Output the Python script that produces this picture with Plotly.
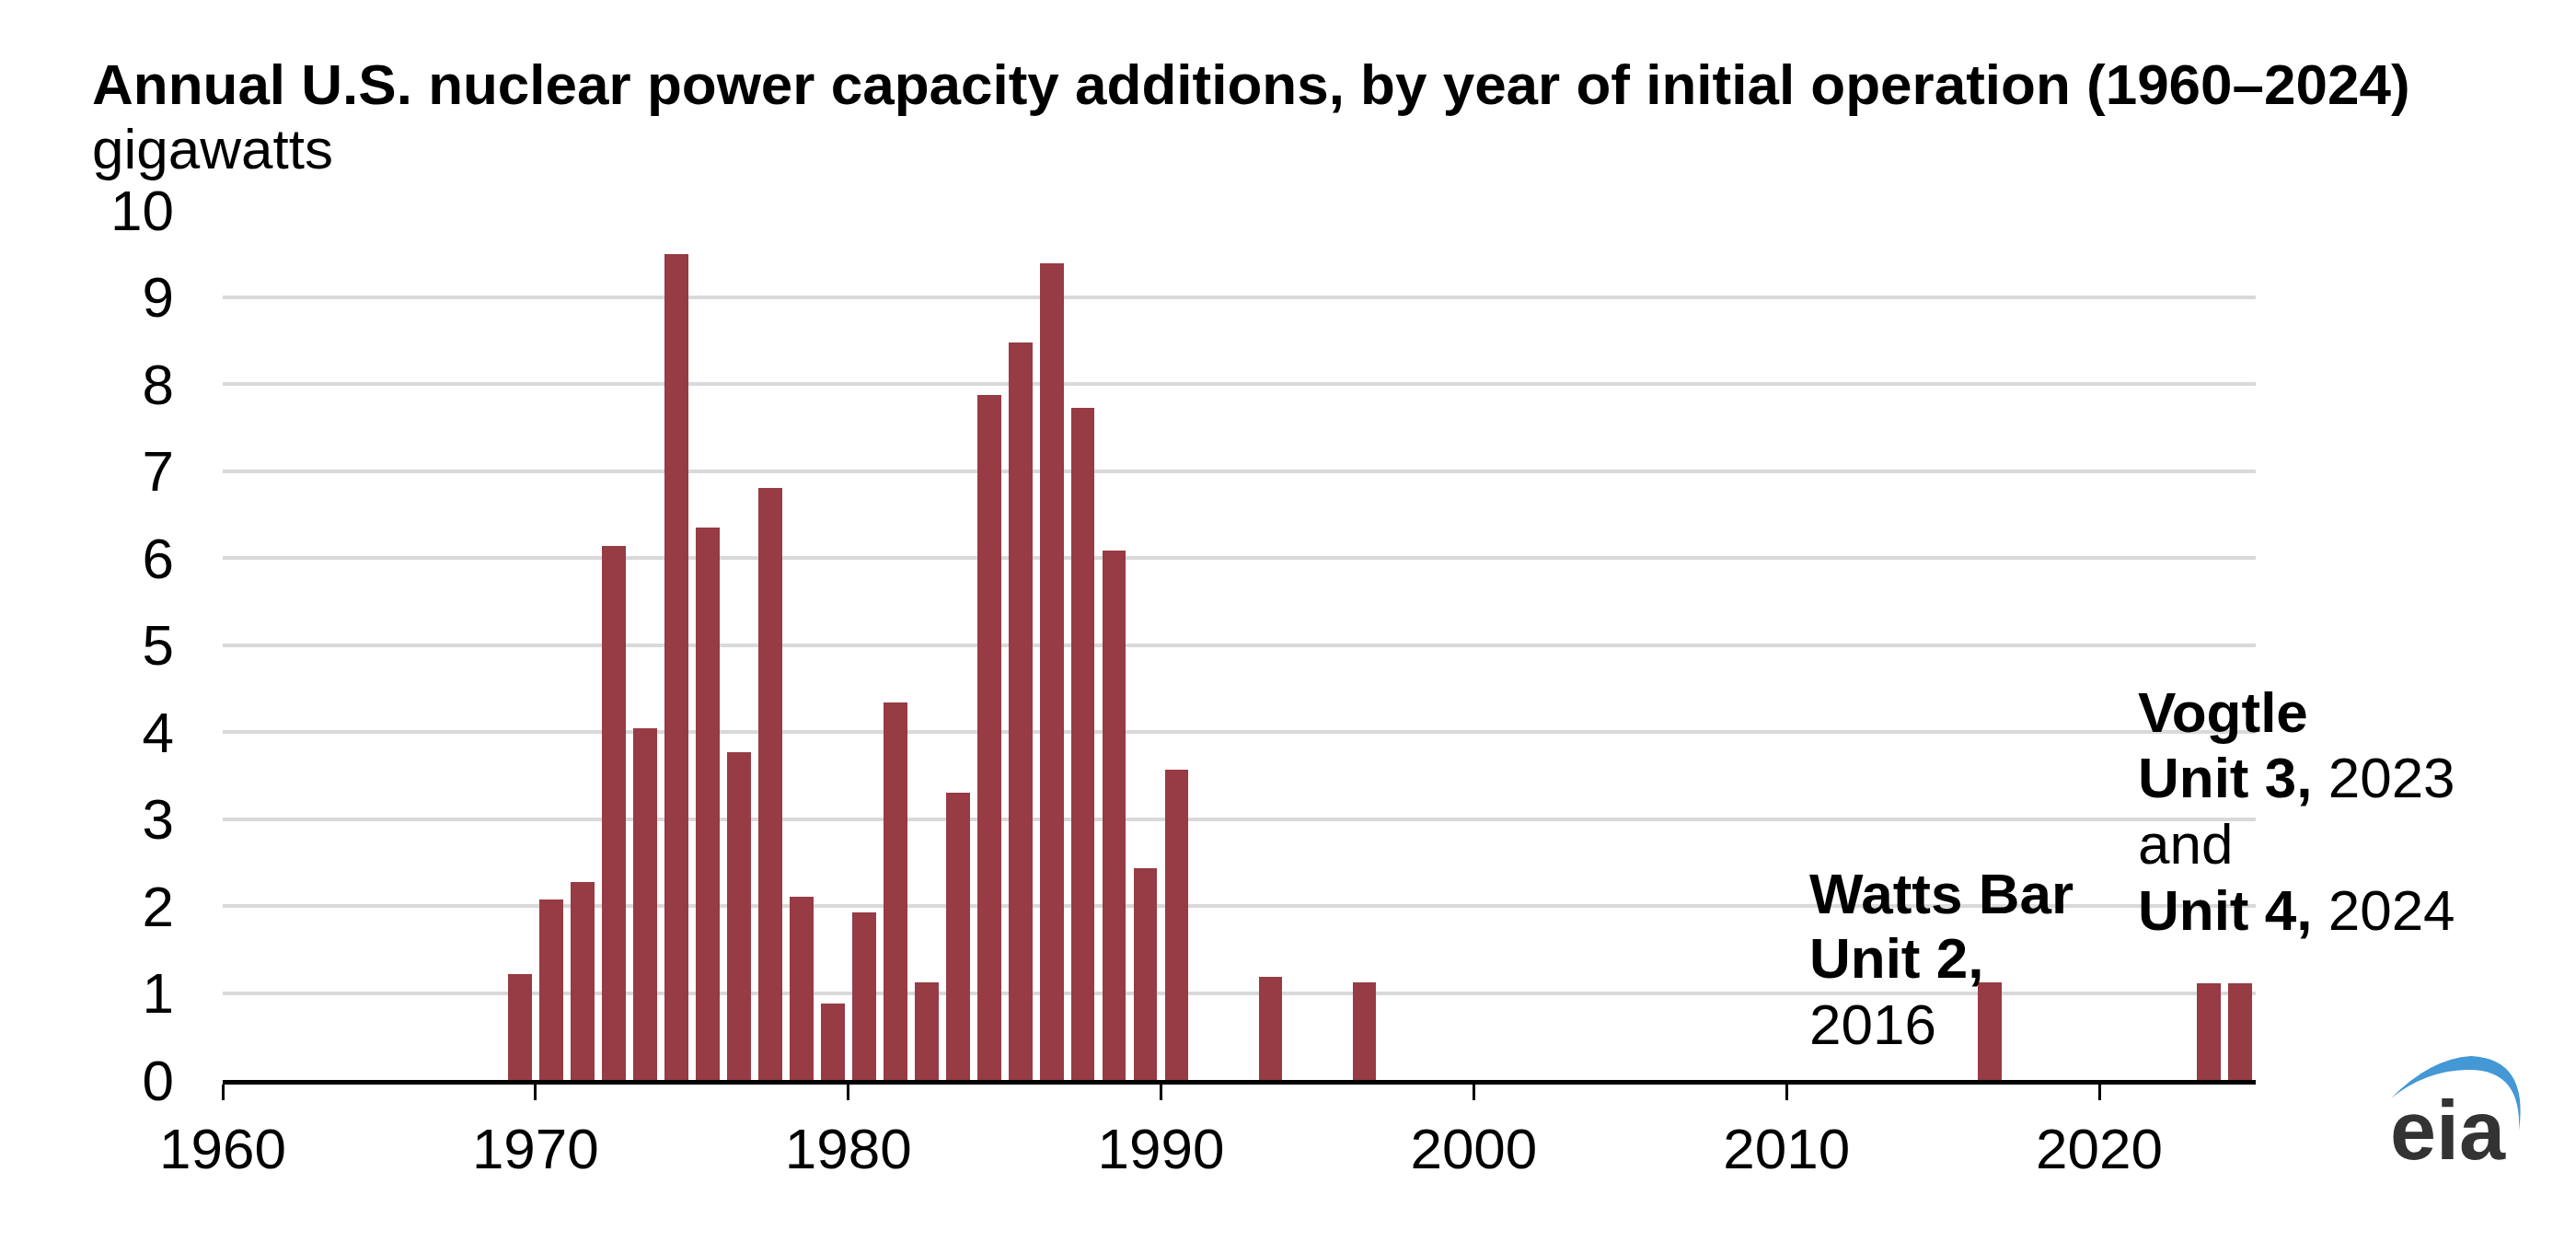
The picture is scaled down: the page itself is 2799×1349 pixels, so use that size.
import plotly.graph_objects as go

years = [1969, 1970, 1971, 1972, 1973, 1974, 1975, 1976, 1977, 1978, 1979,
         1980, 1981, 1982, 1983, 1984, 1985, 1986, 1987, 1988, 1989, 1990,
         1993, 1996, 2016, 2023, 2024]
capacity_gw = [1.22, 2.07, 2.27, 6.14, 4.04, 9.49, 6.35, 3.77, 6.80, 2.11, 0.88,
               1.93, 4.34, 1.12, 3.30, 7.87, 8.48, 9.39, 7.73, 6.09, 2.43, 3.57,
               1.19, 1.12, 1.12, 1.11, 1.11]
x_ticks = [1960, 1970, 1980, 1990, 2000, 2010, 2020]
y_ticks = list(range(0, 11))

title_text = "<b>Annual U.S. nuclear power capacity additions, by year of initial operation (1960\u20132024)</b>"
unit_text = "gigawatts"

FONT = "Liberation Sans, Arial, sans-serif"
FS = 62
BAR_COLOR = "#973B44"

W, H = 2799, 1349
L, R, T, B = 242, 348, 228, 176
PW, PH = W - L - R, H - T - B


def px(X):
    return (X - L) / PW


def py(Y):
    return (H - B - Y) / PH


fig = go.Figure()
fig.add_trace(go.Bar(
    x=years, y=capacity_gw, width=0.76, offset=0.12,
    marker=dict(color=BAR_COLOR, line=dict(width=0)),
    hoverinfo="x+y",
))

annotations = []
annotations.append(dict(text=title_text, xref="paper", yref="paper",
                        x=px(98), y=py(92), xanchor="left", yanchor="middle",
                        showarrow=False, font=dict(family=FONT, size=FS, color="black")))
annotations.append(dict(text=unit_text, xref="paper", yref="paper",
                        x=px(98), y=py(161), xanchor="left", yanchor="middle",
                        showarrow=False, font=dict(family=FONT, size=FS, color="black")))

watts_lines = ["<b>Watts Bar</b>", "<b>Unit 2,</b>", "2016"]
watts_y = [970.7, 1040.7, 1112]
for t, yy in zip(watts_lines, watts_y):
    annotations.append(dict(text=t, xref="paper", yref="paper", x=px(1964), y=py(yy),
                            xanchor="left", yanchor="middle", showarrow=False,
                            font=dict(family=FONT, size=FS, color="black")))
vog_lines = ["<b>Vogtle</b>", "<b>Unit 3,</b> 2023", "and", "<b>Unit 4,</b> 2024"]
vog_y = [773, 844.7, 916, 988.3]
for t, yy in zip(vog_lines, vog_y):
    annotations.append(dict(text=t, xref="paper", yref="paper", x=px(2321), y=py(yy),
                            xanchor="left", yanchor="middle", showarrow=False,
                            font=dict(family=FONT, size=FS, color="black")))

annotations.append(dict(text="<b>eia</b>", xref="paper", yref="paper", x=px(2595), y=py(1228),
                        xanchor="left", yanchor="middle", showarrow=False,
                        font=dict(family=FONT, size=90, color="#333333")))


def P(p):
    return f"{px(p[0]):.5f},{py(p[1]):.5f}"


path = "M " + P((2598, 1193))
path += " Q " + P((2640, 1150)) + " " + P((2685, 1147))
path += " Q " + P((2748, 1150)) + " " + P((2737, 1228))
path += " Q " + P((2740, 1160)) + " " + P((2680, 1162))
path += " Q " + P((2635, 1163)) + " " + P((2598, 1193)) + " Z"

shapes = [dict(type="path", xref="paper", yref="paper", path=path,
               fillcolor="#4398D5", line=dict(width=0), layer="above")]

fig.update_layout(
    width=W, height=H,
    margin=dict(l=L, r=R, t=T, b=B, pad=0),
    paper_bgcolor="white", plot_bgcolor="white",
    showlegend=False,
    bargap=0,
    annotations=annotations,
    shapes=shapes,
    font=dict(family=FONT, size=FS, color="black"),
    xaxis=dict(
        range=[1960, 2025], tickmode="array", tickvals=x_ticks,
        ticktext=[str(v) for v in x_ticks],
        showgrid=False, zeroline=False,
        showline=True, linecolor="black", linewidth=5,
        ticks="outside", ticklen=17, tickwidth=3, tickcolor="black",
        tickfont=dict(family=FONT, size=FS, color="black"),
        ticklabelstandoff=0,
        automargin=False,
        fixedrange=True,
    ),
    yaxis=dict(
        range=[0, 10], tickmode="array", tickvals=y_ticks,
        showgrid=True, gridcolor="#D9D9D9", gridwidth=4,
        zeroline=False, showline=False, ticks="",
        tickfont=dict(family=FONT, size=FS, color="black"),
        ticklabelstandoff=52,
        automargin=False,
        fixedrange=True,
    ),
)

fig.write_html("out.html", config={"displayModeBar": False},
               post_script="document.body.style.margin='0px';document.body.style.overflow='hidden';")
